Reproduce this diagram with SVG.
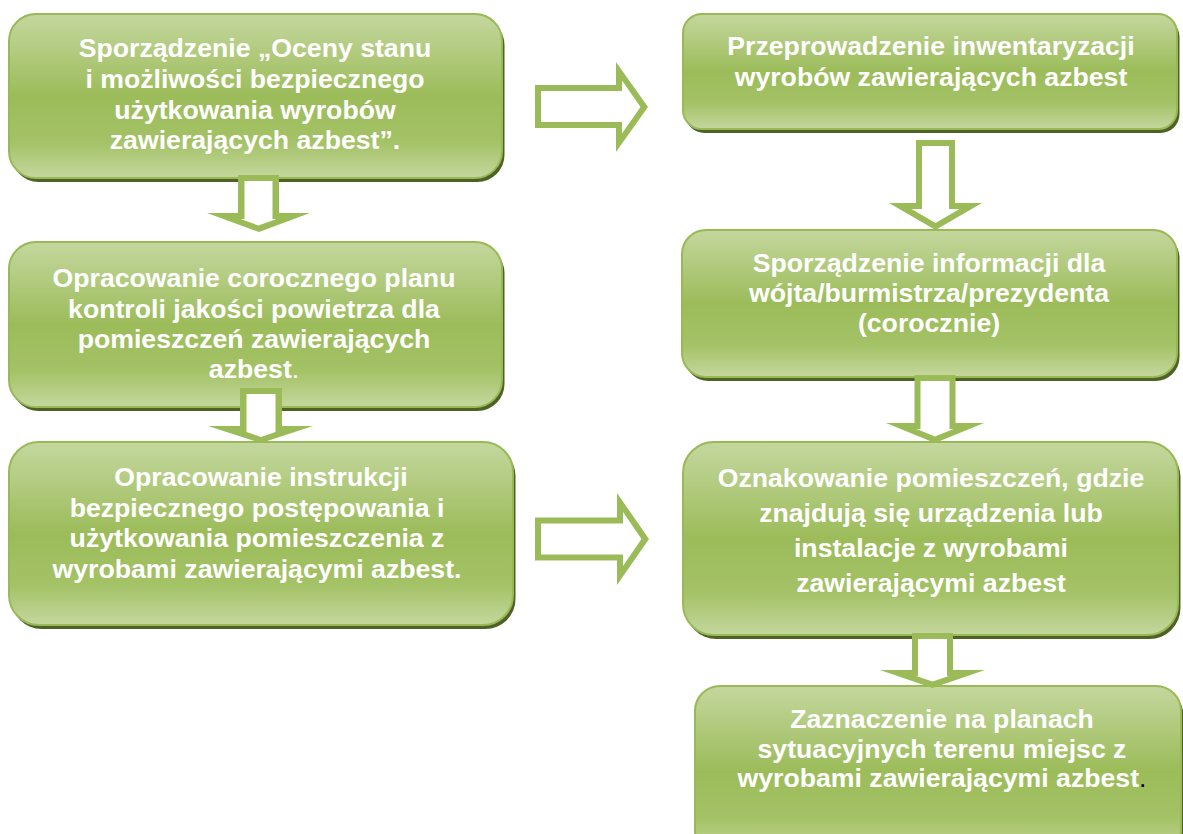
<svg xmlns="http://www.w3.org/2000/svg" width="1183" height="834" viewBox="0 0 1183 834">
  <defs>
    <linearGradient id="g" x1="0" y1="0" x2="0" y2="1">
      <stop offset="0" stop-color="#C4D79E"/>
      <stop offset="0.5" stop-color="#9CBC5A"/>
      <stop offset="0.78" stop-color="#A4C266"/>
      <stop offset="1" stop-color="#C4D79E"/>
    </linearGradient>
    <filter id="sh" x="-5%" y="-5%" width="110%" height="115%">
      <feGaussianBlur stdDeviation="0.5"/>
    </filter>
  </defs>
  <style>
    .shadow { fill: #4F6228; filter: url(#sh); }
    .box { fill: url(#g); stroke: #98B955; stroke-width: 2; }
    .t { font-family: "Liberation Sans", Arial, sans-serif; font-weight: bold; font-size: 26.67px; fill: #FFFFFF; text-anchor: middle; }
    .ao { fill: #9BBB59; }
    .ai { fill: #FFFFFF; }
  </style>
  <rect width="1183" height="834" fill="#FFFFFF"/>

  <g id="node1">
    <rect class="shadow" x="11.5" y="18" width="493" height="164" rx="27"/>
    <rect class="box" x="9" y="14" width="493" height="164" rx="27"/>
    <text class="t" x="255" y="57">Sporządzenie „Oceny stanu</text>
    <text class="t" x="255" y="87.5">i możliwości bezpiecznego</text>
    <text class="t" x="255" y="118.5">użytkowania wyrobów</text>
    <text class="t" x="255" y="149">zawierających azbest”.</text>
  </g>

  <g id="node2">
    <rect class="shadow" x="11.5" y="246" width="493" height="165" rx="27"/>
    <rect class="box" x="9" y="242" width="493" height="165" rx="27"/>
    <text class="t" x="254" y="287">Opracowanie corocznego planu</text>
    <text class="t" x="254" y="318">kontroli jakości powietrza dla</text>
    <text class="t" x="254" y="348">pomieszczeń zawierających</text>
    <text class="t" x="254" y="378">azbest<tspan font-weight="normal">.</tspan></text>
  </g>

  <g id="node3">
    <rect class="shadow" x="11.5" y="446" width="504" height="183" rx="30"/>
    <rect class="box" x="9" y="442" width="504" height="183" rx="30"/>
    <text class="t" x="261" y="486">Opracowanie instrukcji</text>
    <text class="t" x="257" y="516.5">bezpiecznego postępowania i</text>
    <text class="t" x="257" y="547">użytkowania pomieszczenia z</text>
    <text class="t" x="257" y="578">wyrobami zawierającymi azbest.</text>
  </g>

  <g id="nodeA">
    <rect class="shadow" x="685.5" y="18" width="494" height="115" rx="19"/>
    <rect class="box" x="683" y="14" width="494" height="115" rx="19"/>
    <text class="t" x="931" y="55">Przeprowadzenie inwentaryzacji</text>
    <text class="t" x="931" y="86">wyrobów zawierających azbest</text>
  </g>

  <g id="nodeB">
    <rect class="shadow" x="684.5" y="234" width="495" height="147" rx="24"/>
    <rect class="box" x="682" y="230" width="495" height="147" rx="24"/>
    <text class="t" x="929" y="272">Sporządzenie informacji dla</text>
    <text class="t" x="929" y="302">wójta/burmistrza/prezydenta</text>
    <text class="t" x="929" y="332">(corocznie)</text>
  </g>

  <g id="nodeC">
    <rect class="shadow" x="685.5" y="446" width="495" height="193" rx="31"/>
    <rect class="box" x="683" y="442" width="495" height="193" rx="31"/>
    <text class="t" x="931" y="487">Oznakowanie pomieszczeń, gdzie</text>
    <text class="t" x="931" y="522">znajdują się urządzenia lub</text>
    <text class="t" x="931" y="557">instalacje z wyrobami</text>
    <text class="t" x="931" y="592">zawierającymi azbest</text>
  </g>

  <g id="nodeD">
    <rect class="shadow" x="697.5" y="690" width="486" height="170" rx="25"/>
    <rect class="box" x="695" y="686" width="486" height="170" rx="25"/>
    <text class="t" x="942" y="728">Zaznaczenie na planach</text>
    <text class="t" x="942" y="757.5">sytuacyjnych terenu miejsc z</text>
    <text class="t" x="942" y="787">wyrobami zawierającymi azbest<tspan fill="#000000" font-weight="normal">.</tspan></text>
  </g>

  <g id="connectors">
    <!-- node1 -> node2 -->
    <polygon class="ao" points="238,175 279,175 279,213 310,213 259,232 207,213 238,213"/>
    <polygon class="ai" points="244.5,181 272.5,181 272.5,219 276.5,219 258.5,225.5 240.5,219 244.5,219"/>
    <!-- node2 -> node3 -->
    <polygon class="ao" points="240,388 282,388 282,426 313,426 261,443 208,426 240,426"/>
    <polygon class="ai" points="246.5,394 275.5,394 275.5,432 261,437 246.5,432"/>
    <!-- node1 -> nodeA -->
    <polygon class="ao" points="535,85 616,85 616,62 648,107 616,152 616,128 535,128"/>
    <polygon class="ai" points="541,91 622,91 622,80.5 640.5,107 622,133.5 622,122 541,122"/>
    <!-- node3 -> nodeC -->
    <polygon class="ao" points="535,517.5 617,517.5 617,493 649,539 617,585 617,560.5 535,560.5"/>
    <polygon class="ai" points="541,523.5 623,523.5 623,512 641.5,539 623,566 623,554.5 541,554.5"/>
    <!-- nodeA -> nodeB -->
    <polygon class="ao" points="916,140 955,140 955,203 982,203 935.5,230 889,203 916,203"/>
    <polygon class="ai" points="922,146 949,146 949,209 959.5,209 935.5,223 911.5,209 922,209"/>
    <!-- nodeB -> nodeC -->
    <polygon class="ao" points="914.5,375 955.5,375 955.5,423 984,423 935,443 886,423 914.5,423"/>
    <polygon class="ai" points="920.5,381 949.5,381 949.5,429 953.5,429 935,436.5 916.5,429 920.5,429"/>
    <!-- nodeC -> nodeD -->
    <polygon class="ao" points="912,633 953,633 953,670 985,670 932.5,688 880,670 912,670"/>
    <polygon class="ai" points="918,639 947,639 947,676 949,676 932.5,681.5 916,676 918,676"/>
  </g>
</svg>
